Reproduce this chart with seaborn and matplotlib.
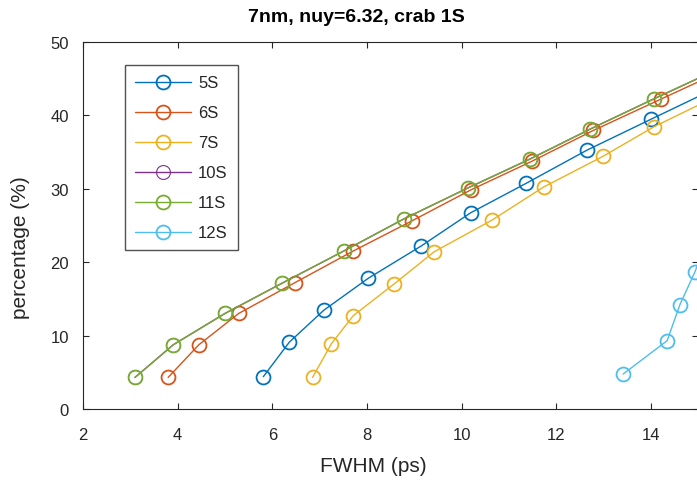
import matplotlib
matplotlib.use("Agg")
import matplotlib.pyplot as plt
import seaborn as sns

# values (FWHM in ps, percentage)
labels = ["5S", "6S", "7S", "10S", "11S", "12S"]
colors = ["#0072BD", "#D95319", "#EDB120", "#7E2F8E", "#77AC30", "#4DBEEE"]

fwhm_5s = [5.81, 6.36, 7.09, 8.03, 9.15, 10.19, 11.36, 12.64, 13.99, 15.35]
pct_5s = [4.4, 9.1, 13.45, 17.8, 22.2, 26.7, 30.7, 35.2, 39.4, 43.6]

fwhm_6s = [3.80, 4.45, 5.29, 6.48, 7.71, 8.95, 10.19, 11.48, 12.78, 14.22, 15.6]
pct_6s = [4.3, 8.75, 13.0, 17.2, 21.5, 25.6, 29.8, 33.7, 37.9, 42.2, 46.3]

fwhm_7s = [6.85, 7.25, 7.71, 8.57, 9.42, 10.64, 11.73, 12.99, 14.06, 15.4]
pct_7s = [4.3, 8.9, 12.7, 17.0, 21.4, 25.7, 30.2, 34.4, 38.4, 42.6]

# 10S is hidden under 11S in the reference
fwhm_10s = [3.10, 3.91, 5.00, 6.20, 7.51, 8.79, 10.14, 11.44, 12.72, 14.06, 15.4]
pct_10s = [4.3, 8.75, 13.0, 17.1, 21.5, 25.9, 30.1, 34.0, 38.1, 42.2, 46.2]

fwhm_11s = [3.10, 3.91, 5.00, 6.20, 7.51, 8.79, 10.14, 11.44, 12.72, 14.06, 15.4]
pct_11s = [4.3, 8.75, 13.0, 17.1, 21.5, 25.9, 30.1, 34.0, 38.1, 42.2, 46.2]

fwhm_12s = [13.41, 14.34, 14.61, 14.93, 15.2]
pct_12s = [4.75, 9.3, 14.2, 18.7, 23.5]

series = [(fwhm_5s, pct_5s), (fwhm_6s, pct_6s), (fwhm_7s, pct_7s),
          (fwhm_10s, pct_10s), (fwhm_11s, pct_11s), (fwhm_12s, pct_12s)]

sns.set_style("ticks")
plt.rcParams['font.family'] = ['Liberation Sans', 'DejaVu Sans']
axcol = "#262626"

fig = plt.figure(figsize=(6.97, 4.81), dpi=100)
ax = fig.add_axes([0.119, 0.1476, 0.883, 0.7640])

for (x, y), name, c in zip(series, labels, colors):
    # 10S sits underneath 11S, keep it thin so it does not tint the green
    w = 0.8 if name == "10S" else 1.3
    sns.lineplot(x=x, y=y, ax=ax, color=c, lw=1.0, marker='o', markersize=10,
                 mfc='none', mec=c, mew=w, estimator=None, sort=False,
                 label=name)

ax.set_xlim(2, 15)
ax.set_ylim(0, 50)
ax.set_xticks([2, 4, 6, 8, 10, 12, 14])
ax.set_yticks([0, 10, 20, 30, 40, 50])
ax.tick_params(direction='in', top=True, right=True, length=4, width=0.8,
               colors=axcol, labelsize=12, labelcolor=axcol)
ax.tick_params(axis='x', pad=13)
ax.tick_params(axis='y', pad=10)
for s in ax.spines.values():
    s.set_color(axcol)
    s.set_linewidth(0.8)

ax.set_xlabel("FWHM (ps)", fontsize=15, color=axcol)
ax.xaxis.set_label_coords(0.471, -0.128)
ax.set_ylabel("percentage (%)", fontsize=15, color=axcol)
ax.yaxis.set_label_coords(-0.086, 0.443)
fig.text(0.512, 0.963, "7nm, nuy=6.32, crab 1S", ha='center', va='center',
         fontsize=14, fontweight='bold', color='black')

leg = ax.legend(loc='upper left', bbox_to_anchor=(0.068, 0.935), fontsize=12,
                frameon=True, fancybox=False, edgecolor=axcol,
                handlelength=3.4, handletextpad=0.4, labelspacing=0.9,
                borderpad=0.6, borderaxespad=0)
leg.get_frame().set_linewidth(1.0)
for t in leg.get_texts():
    t.set_color(axcol)

fig.savefig("out.png", dpi=100)
